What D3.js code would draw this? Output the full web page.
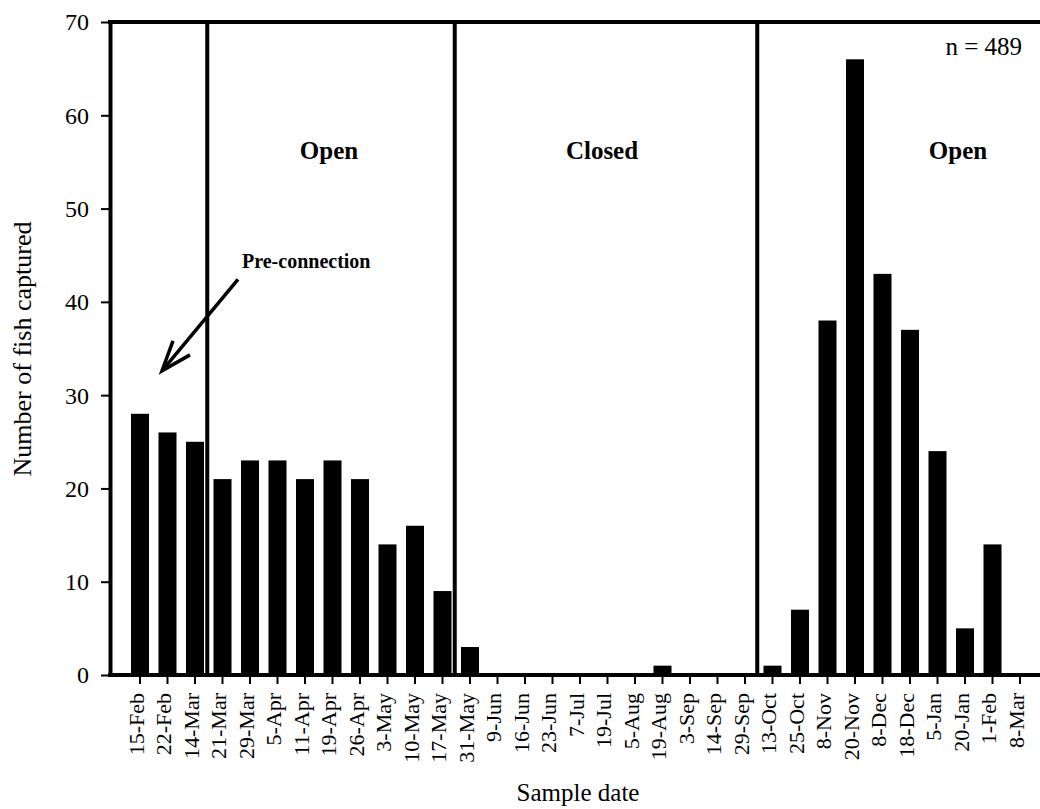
<!DOCTYPE html>
<html>
<head>
<meta charset="utf-8">
<script src="https://cdn.jsdelivr.net/npm/d3@7/dist/d3.min.js"></script>
<style>
  html, body { margin: 0; padding: 0; background: #fff; }
  svg { display: block; }
  text { font-family: "Liberation Serif", "Times New Roman", serif; fill: #000; }
</style>
</head>
<body>
<svg id="chart" width="1040" height="809"></svg>
<script>
// ---- data ----
const categories = ["15-Feb","22-Feb","14-Mar","21-Mar","29-Mar","5-Apr","11-Apr","19-Apr","26-Apr",
  "3-May","10-May","17-May","31-May","9-Jun","16-Jun","23-Jun","7-Jul","19-Jul","5-Aug","19-Aug",
  "3-Sep","14-Sep","29-Sep","13-Oct","25-Oct","8-Nov","20-Nov","8-Dec","18-Dec","5-Jan","20-Jan",
  "1-Feb","8-Mar"];
const counts = [28,26,25,21,23,23,21,23,21,14,16,9,3,0,0,0,0,0,0,1,0,0,0,1,7,38,66,43,37,24,5,14,0];
const yTicks = [0,10,20,30,40,50,60,70];
const dividerAfter = ["14-Mar","17-May","29-Sep"];
const periodLabels = ["Open","Closed","Open"];
const totalLabel = "n = 489";
const annotationLabel = "Pre-connection";
const xTitle = "Sample date";
const yTitle = "Number of fish captured";

// ---- layout ----
const svg = d3.select("#chart");
const plotLeft = 110, plotRight = 1040, plotTop = 22, plotBottom = 675;

const x = d3.scaleBand().domain(categories).range([126.25, 1033.75])
  .paddingInner(0.345).paddingOuter(0.1725);
const y = d3.scaleLinear().domain([0, 70]).range([plotBottom, plotTop]);
const cx = c => x(c) + x.bandwidth() / 2;

// bars
svg.append("g").selectAll("rect").data(categories).join("rect")
  .attr("x", c => x(c))
  .attr("width", x.bandwidth())
  .attr("y", (c, i) => y(counts[i]))
  .attr("height", (c, i) => y(0) - y(counts[i]))
  .attr("fill", "#000");

// dividers
const divX = dividerAfter.map(c => {
  const i = categories.indexOf(c);
  return (cx(categories[i]) + cx(categories[i + 1])) / 2 - 1.5;
});
svg.append("g").selectAll("line").data(divX).join("line")
  .attr("x1", d => d).attr("x2", d => d)
  .attr("y1", plotTop).attr("y2", plotBottom)
  .attr("stroke", "#000").attr("stroke-width", 4);

// top border
svg.append("line").attr("x1", plotLeft - 2).attr("x2", plotRight).attr("y1", plotTop).attr("y2", plotTop)
  .attr("stroke", "#000").attr("stroke-width", 4);

// y axis
const yAxis = svg.append("g").attr("transform", `translate(${plotLeft},0)`)
  .call(d3.axisLeft(y).tickValues(yTicks).tickSize(9).tickSizeOuter(0).tickPadding(12));
yAxis.select(".domain").attr("stroke-width", 4);
yAxis.selectAll(".tick line").attr("stroke-width", 2);
yAxis.selectAll(".tick text").attr("font-size", 24)
  .attr("font-family", "Liberation Serif, serif").attr("dy", "0.33em");

// x axis
const xAxis = svg.append("g").attr("transform", `translate(0,${plotBottom})`)
  .call(d3.axisBottom(x).tickSize(9).tickSizeOuter(0));
xAxis.select(".domain").remove();
xAxis.selectAll(".tick line").attr("stroke-width", 2);
xAxis.selectAll(".tick text")
  .attr("font-size", 22).attr("font-family", "Liberation Serif, serif")
  .attr("text-anchor", "end")
  .attr("transform", "rotate(-90)")
  .attr("x", -18).attr("y", 0).attr("dy", "0.16em");
svg.append("line").attr("x1", plotLeft - 2).attr("x2", plotRight).attr("y1", plotBottom).attr("y2", plotBottom)
  .attr("stroke", "#000").attr("stroke-width", 4);

// period labels
const labelX = [(divX[0] + divX[1]) / 2 - 2, (divX[1] + divX[2]) / 2 - 4, 958];
svg.append("g").selectAll("text").data(periodLabels).join("text")
  .attr("x", (d, i) => labelX[i]).attr("y", y(55.3))
  .attr("text-anchor", "middle").attr("font-weight", "bold").attr("font-size", 25)
  .text(d => d);

// n label
svg.append("text").attr("x", 1022).attr("y", y(66.5)).attr("text-anchor", "end")
  .attr("font-size", 25).text(totalLabel);

// pre-connection annotation
svg.append("text").attr("x", 242).attr("y", y(43.6)).attr("font-weight", "bold")
  .attr("font-size", 20).text(annotationLabel);
const tip = [cx("22-Feb") - 5.5, y(32.6)];
const tail = [238, y(42.4)];
const arrow = svg.append("g").attr("stroke", "#000").attr("stroke-width", 3.5)
  .attr("fill", "none").attr("stroke-linecap", "butt");
arrow.append("line").attr("x1", tail[0]).attr("y1", tail[1]).attr("x2", tip[0]).attr("y2", tip[1]);
arrow.append("polyline").attr("points",
  [[tip[0] + 11, tip[1] - 30], tip, [tip[0] + 28, tip[1] - 16]].map(p => p.join(",")).join(" "));

// axis titles
svg.append("text").attr("transform", `translate(31,${(220 + 478) / 2}) rotate(-90)`)
  .attr("text-anchor", "middle").attr("font-size", 26).text(yTitle);
svg.append("text").attr("x", 578).attr("y", 801).attr("text-anchor", "middle")
  .attr("font-size", 25).text(xTitle);
</script>
</body>
</html>
